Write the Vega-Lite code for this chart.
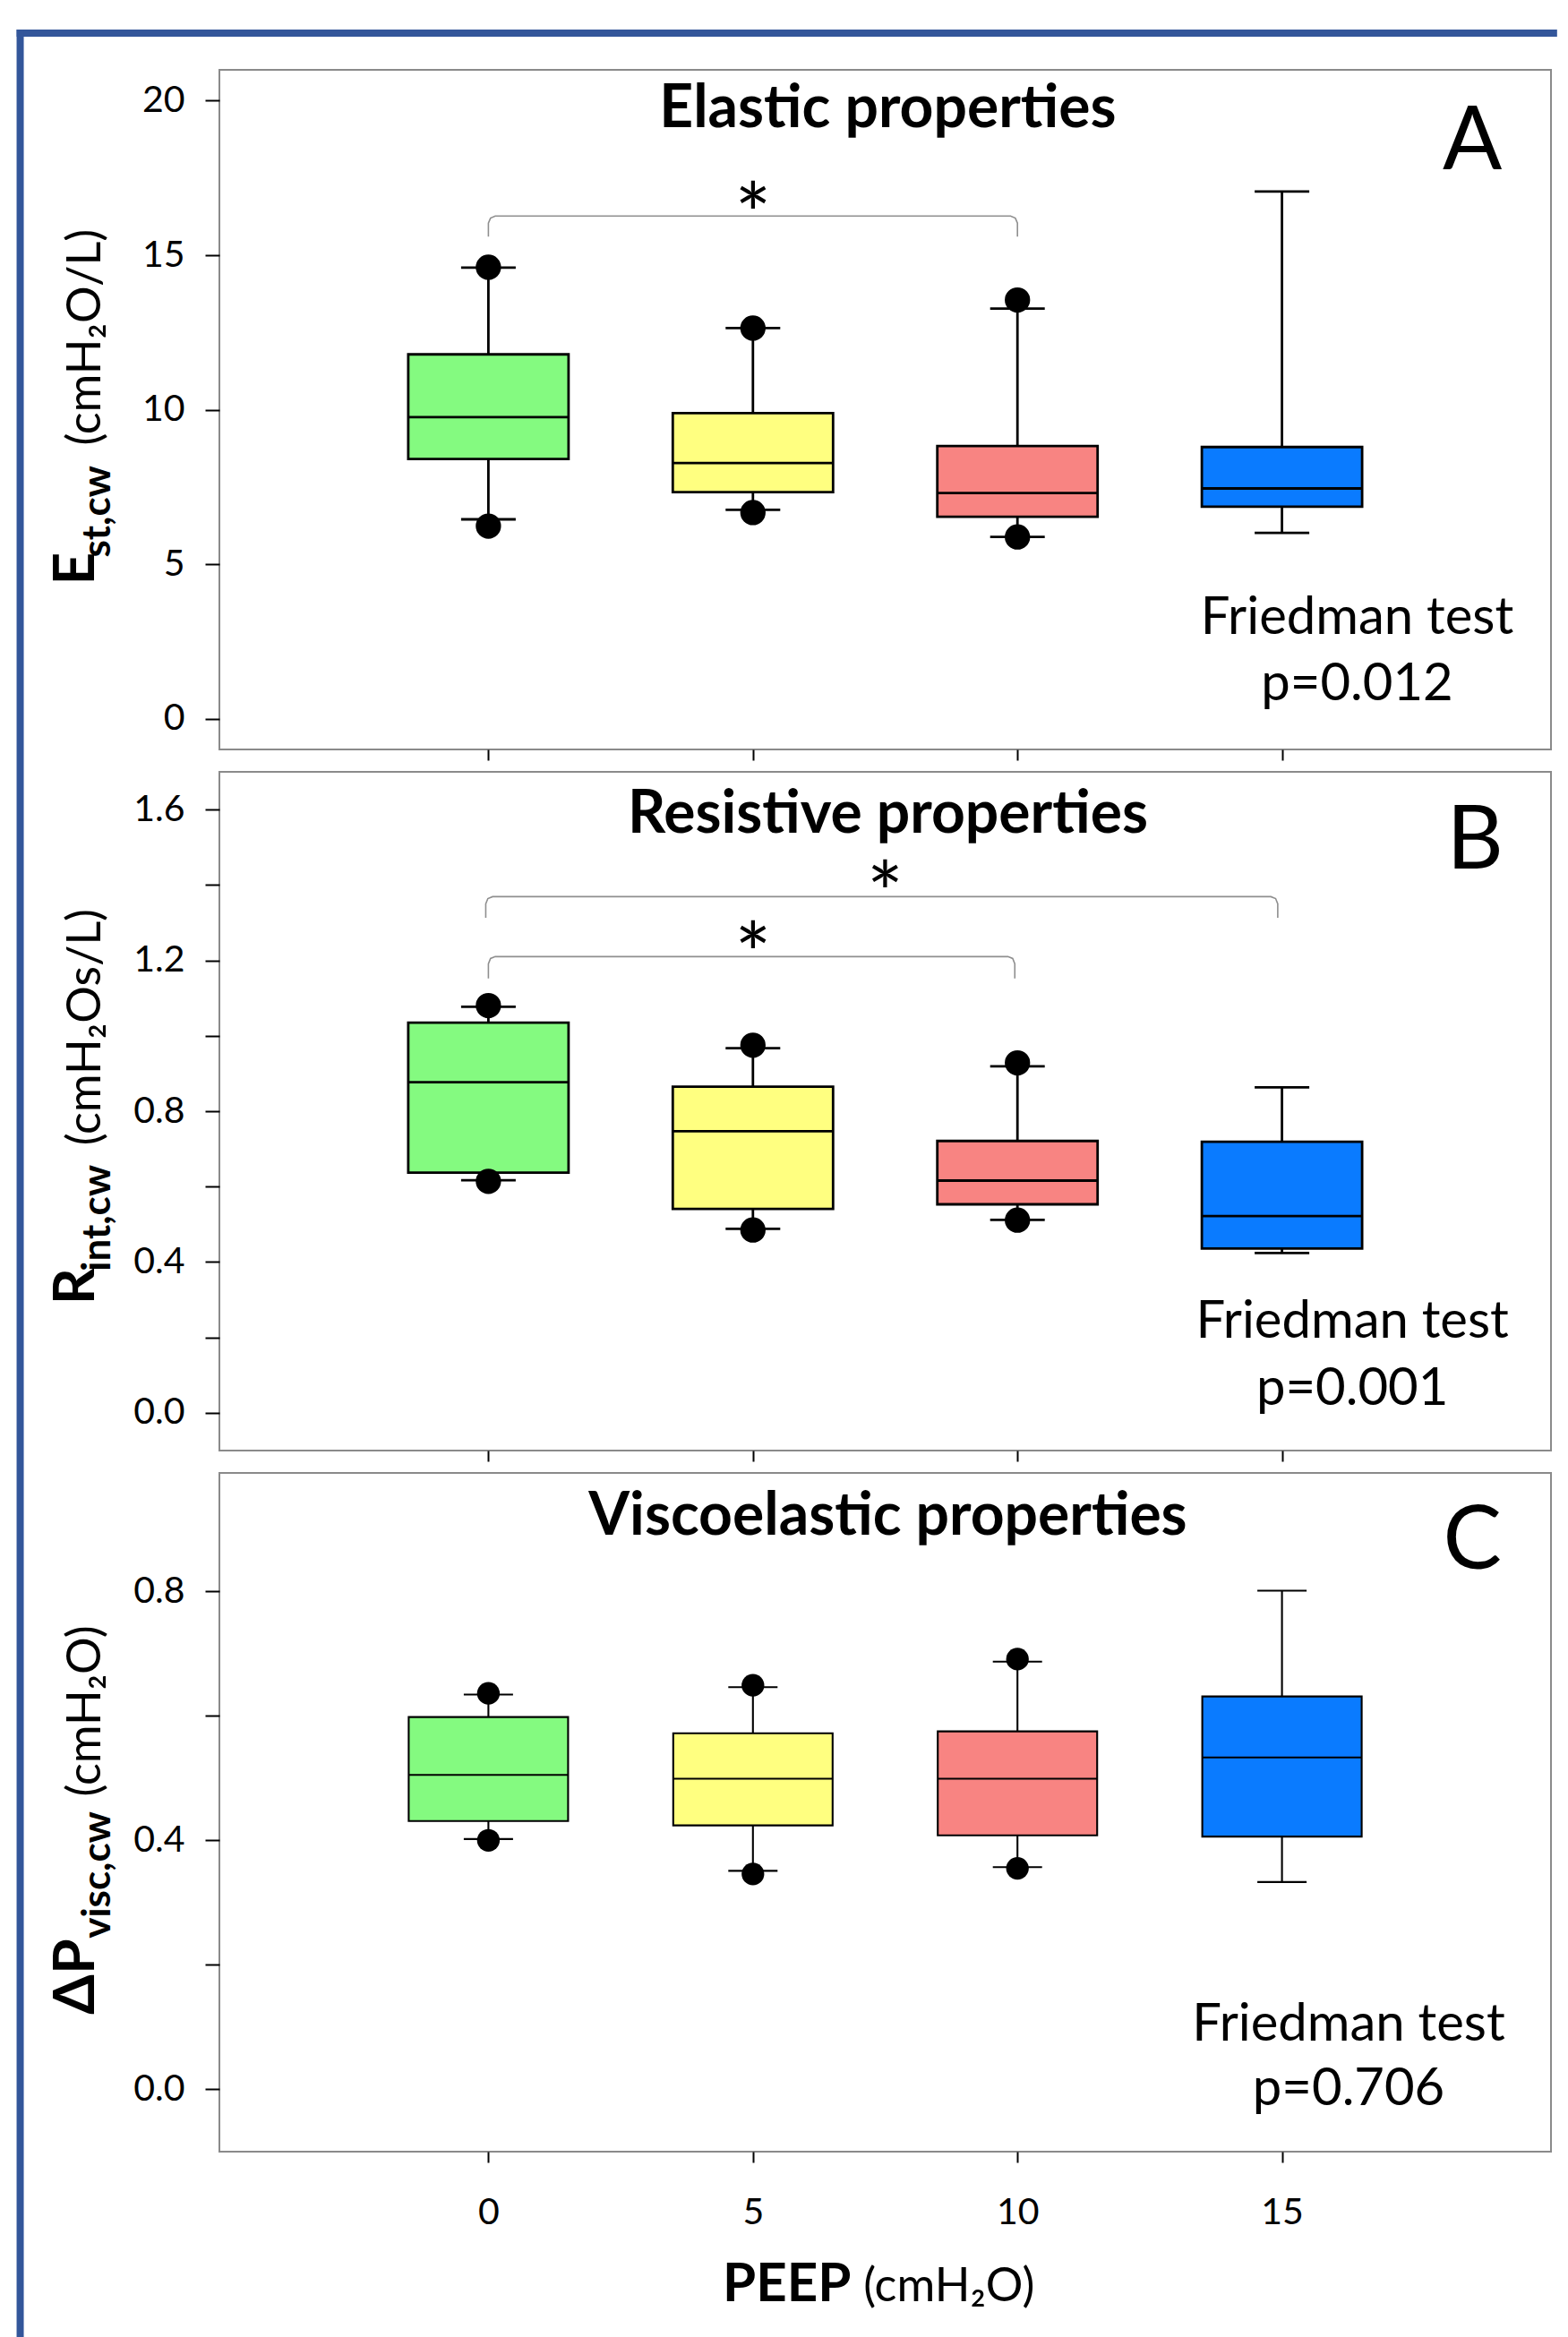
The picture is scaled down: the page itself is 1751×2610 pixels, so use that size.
{
  "$schema": "https://vega.github.io/schema/vega-lite/v6.json",
  "background": "white",
  "autosize": {"type": "pad"},
  "padding": {"left": 13, "top": 28, "right": 0, "bottom": 0},
  "spacing": 25,
  "bounds": "flush",
  "config": {
    "font": "Lato",
    "view": {"stroke": "#8a8a8a", "strokeWidth": 2},
    "text": {"font": "Lato", "color": "black"},
    "axis": {"labelFont": "Lato", "labelColor": "black", "labelFontSize": 41, "tickColor": "black", "tickWidth": 2, "domain": false, "grid": false}
  },
  "datasets": {
    "elastic": [
      {"peep": 0, "lo": 6.45, "q1": 8.40, "med": 9.76, "q3": 11.79, "hi": 14.60, "dlo": 6.23, "dhi": 14.61},
      {"peep": 5, "lo": 6.76, "q1": 7.33, "med": 8.27, "q3": 9.89, "hi": 12.64, "dlo": 6.67, "dhi": 12.64},
      {"peep": 10, "lo": 5.88, "q1": 6.53, "med": 7.30, "q3": 8.82, "hi": 13.27, "dlo": 5.88, "dhi": 13.55},
      {"peep": 15, "lo": 6.01, "q1": 6.86, "med": 7.45, "q3": 8.79, "hi": 17.06, "dlo": null, "dhi": null}
    ],
    "resistive": [
      {"peep": 0, "lo": 0.617, "q1": 0.637, "med": 0.877, "q3": 1.035, "hi": 1.077, "dlo": 0.614, "dhi": 1.080},
      {"peep": 5, "lo": 0.488, "q1": 0.541, "med": 0.747, "q3": 0.865, "hi": 0.967, "dlo": 0.485, "dhi": 0.975},
      {"peep": 10, "lo": 0.512, "q1": 0.553, "med": 0.616, "q3": 0.721, "hi": 0.919, "dlo": 0.511, "dhi": 0.928},
      {"peep": 15, "lo": 0.424, "q1": 0.436, "med": 0.522, "q3": 0.719, "hi": 0.863, "dlo": null, "dhi": null}
    ],
    "visco": [
      {"peep": 0, "lo": 0.402, "q1": 0.431, "med": 0.505, "q3": 0.598, "hi": 0.634, "dlo": 0.400, "dhi": 0.636},
      {"peep": 5, "lo": 0.351, "q1": 0.424, "med": 0.499, "q3": 0.572, "hi": 0.646, "dlo": 0.346, "dhi": 0.649},
      {"peep": 10, "lo": 0.357, "q1": 0.408, "med": 0.499, "q3": 0.575, "hi": 0.687, "dlo": 0.355, "dhi": 0.691},
      {"peep": 15, "lo": 0.333, "q1": 0.406, "med": 0.533, "q3": 0.631, "hi": 0.801, "dlo": null, "dhi": null}
    ],
    "bracketsA": [
      {"b": "a1", "i": 1, "x": 0, "y": 15.6}, {"b": "a1", "i": 2, "x": 0, "y": 16.04}, {"b": "a1", "i": 3, "x": 0.04, "y": 16.2}, {"b": "a1", "i": 4, "x": 0.13, "y": 16.27},
      {"b": "a1", "i": 5, "x": 9.87, "y": 16.27}, {"b": "a1", "i": 6, "x": 9.96, "y": 16.2}, {"b": "a1", "i": 7, "x": 10, "y": 16.04}, {"b": "a1", "i": 8, "x": 10, "y": 15.6}
    ],
    "bracketsB": [
      {"b": "b1", "i": 1, "x": 0, "y": 1.152}, {"b": "b1", "i": 2, "x": 0, "y": 1.191}, {"b": "b1", "i": 3, "x": 0.04, "y": 1.205}, {"b": "b1", "i": 4, "x": 0.13, "y": 1.210},
      {"b": "b1", "i": 5, "x": 9.82, "y": 1.210}, {"b": "b1", "i": 6, "x": 9.91, "y": 1.205}, {"b": "b1", "i": 7, "x": 9.95, "y": 1.191}, {"b": "b1", "i": 8, "x": 9.95, "y": 1.152},
      {"b": "b2", "i": 1, "x": -0.05, "y": 1.313}, {"b": "b2", "i": 2, "x": -0.05, "y": 1.350}, {"b": "b2", "i": 3, "x": -0.01, "y": 1.364}, {"b": "b2", "i": 4, "x": 0.08, "y": 1.369},
      {"b": "b2", "i": 5, "x": 14.79, "y": 1.369}, {"b": "b2", "i": 6, "x": 14.88, "y": 1.364}, {"b": "b2", "i": 7, "x": 14.92, "y": 1.350}, {"b": "b2", "i": 8, "x": 14.92, "y": 1.313}
    ],
    "frame": [
      {"side": "top", "x": -8.917, "x2": 20.2, "y": 22.188, "y2": 22.188},
      {"side": "left", "x": -8.85, "x2": -8.85, "y": 22.304, "y2": -52.42}
    ],
    "notesA": [
      {"role": "star", "label": "*", "x": 5, "y": 15.30},
      {"role": "title", "label": "Elastic properties", "x": 7.55, "y": 19.14},
      {"role": "letter", "label": "A", "x": 18.6, "y": 17.78},
      {"role": "fried", "label": "Friedman test", "x": 16.42, "y": 2.74},
      {"role": "fried", "label": "p=0.012", "x": 16.42, "y": 0.58},
      {"role": "big", "label": "E", "x": -7.454, "y": 4.85},
      {"role": "sub", "label": "st,cw", "x": -7.151, "y": 6.70},
      {"role": "unit", "label": "(cmH₂O/L)", "x": -7.336, "y": 12.34}
    ],
    "notesB": [
      {"role": "star", "label": "*", "x": 5, "y": 1.1335},
      {"role": "star", "label": "*", "x": 7.5, "y": 1.2945},
      {"role": "title", "label": "Resistive properties", "x": 7.55, "y": 1.5395},
      {"role": "letter", "label": "B", "x": 18.65, "y": 1.443},
      {"role": "fried", "label": "Friedman test", "x": 16.33, "y": 0.200},
      {"role": "fried", "label": "p=0.001", "x": 16.33, "y": 0.0206},
      {"role": "big", "label": "R", "x": -7.454, "y": 0.3353},
      {"role": "sub", "label": "int,cw", "x": -7.151, "y": 0.5167},
      {"role": "unit", "label": "(cmH₂Os/L)", "x": -7.336, "y": 1.0228}
    ],
    "notesC": [
      {"role": "title", "label": "Viscoelastic properties", "x": 7.55, "y": 0.8907},
      {"role": "letter", "label": "C", "x": 18.6, "y": 0.836},
      {"role": "fried", "label": "Friedman test", "x": 16.26, "y": 0.0789},
      {"role": "fried", "label": "p=0.706", "x": 16.26, "y": -0.0254},
      {"role": "big", "label": "ΔP", "x": -7.454, "y": 0.181},
      {"role": "sub", "label": "visc,cw", "x": -7.151, "y": 0.3444},
      {"role": "unit", "label": "(cmH₂O)", "x": -7.336, "y": 0.6076},
      {"role": "xbold", "label": "PEEP", "x": 6.855, "y": -0.340},
      {"role": "xunit", "label": "(cmH₂O)", "x": 7.09, "y": -0.340}
    ]
  },
  "vconcat": [
    {
      "width": 1487,
      "height": 759,
      "data": {"name": "elastic"},
      "layer": [
        {"mark": {"type": "rule", "color": "black", "strokeWidth": 2.8},
         "encoding": {"x": {"field": "peep", "type": "quantitative", "scale": {"domain": [-5, 20], "nice": false, "zero": false},
                            "axis": {"values": [0, 5, 10, 15], "format": "d", "labels": false, "title": null, "tickSize": 12}},
                      "y": {"field": "lo", "type": "quantitative", "scale": {"domain": [-1, 21], "nice": false, "zero": false},
                            "axis": {"values": [0, 5, 10, 15, 20], "format": "d", "title": null, "tickSize": 16, "labelPadding": 23}},
                      "y2": {"field": "hi"}}},
        {"mark": {"type": "bar", "width": 179, "stroke": "black", "strokeWidth": 2.8},
         "encoding": {"x": {"field": "peep", "type": "quantitative"}, "y": {"field": "q1", "type": "quantitative"}, "y2": {"field": "q3"},
                      "fill": {"field": "peep", "type": "nominal", "scale": {"domain": [0, 5, 10, 15], "range": ["#84FA80", "#FFFF80", "#F88482", "#0A7BFF"]}, "legend": null}}},
        {"mark": {"type": "tick", "orient": "horizontal", "size": 179, "thickness": 2.8, "color": "black", "opacity": 1},
         "encoding": {"x": {"field": "peep", "type": "quantitative"}, "y": {"field": "med", "type": "quantitative"}}},
        {"mark": {"type": "tick", "orient": "horizontal", "size": 61, "thickness": 2.8, "color": "black", "opacity": 1},
         "encoding": {"x": {"field": "peep", "type": "quantitative"}, "y": {"field": "lo", "type": "quantitative"}}},
        {"mark": {"type": "tick", "orient": "horizontal", "size": 61, "thickness": 2.8, "color": "black", "opacity": 1},
         "encoding": {"x": {"field": "peep", "type": "quantitative"}, "y": {"field": "hi", "type": "quantitative"}}},
        {"mark": {"type": "point", "filled": true, "color": "black", "opacity": 1, "size": 800},
         "encoding": {"x": {"field": "peep", "type": "quantitative"}, "y": {"field": "dlo", "type": "quantitative"}}},
        {"mark": {"type": "point", "filled": true, "color": "black", "opacity": 1, "size": 800},
         "encoding": {"x": {"field": "peep", "type": "quantitative"}, "y": {"field": "dhi", "type": "quantitative"}}},
        {"data": {"name": "bracketsA"},
         "mark": {"type": "line", "color": "#8f8f8f", "strokeWidth": 1.6},
         "encoding": {"x": {"field": "x", "type": "quantitative"}, "y": {"field": "y", "type": "quantitative"}, "detail": {"field": "b"}, "order": {"field": "i"}}},
        {"data": {"name": "notesA"}, "transform": [{"filter": "datum.role == 'star'"}],
         "mark": {"type": "text", "fontSize": 96, "align": "center", "baseline": "alphabetic"},
         "encoding": {"text": {"field": "label"}, "x": {"field": "x", "type": "quantitative"}, "y": {"field": "y", "type": "quantitative"}}},
        {"data": {"name": "notesA"}, "transform": [{"filter": "datum.role == 'title'"}],
         "mark": {"type": "text", "fontSize": 66, "fontWeight": "bold", "align": "center", "baseline": "alphabetic"},
         "encoding": {"text": {"field": "label"}, "x": {"field": "x", "type": "quantitative"}, "y": {"field": "y", "type": "quantitative"}}},
        {"data": {"name": "notesA"}, "transform": [{"filter": "datum.role == 'letter'"}],
         "mark": {"type": "text", "fontSize": 98, "align": "center", "baseline": "alphabetic"},
         "encoding": {"text": {"field": "label"}, "x": {"field": "x", "type": "quantitative"}, "y": {"field": "y", "type": "quantitative"}}},
        {"data": {"name": "notesA"}, "transform": [{"filter": "datum.role == 'fried'"}],
         "mark": {"type": "text", "fontSize": 58, "align": "center", "baseline": "alphabetic"},
         "encoding": {"text": {"field": "label"}, "x": {"field": "x", "type": "quantitative"}, "y": {"field": "y", "type": "quantitative"}}},
        {"data": {"name": "notesA"}, "transform": [{"filter": "datum.role == 'big'"}],
         "mark": {"type": "text", "fontSize": 64, "fontWeight": "bold", "angle": 270, "align": "center", "baseline": "alphabetic"},
         "encoding": {"text": {"field": "label"}, "x": {"field": "x", "type": "quantitative"}, "y": {"field": "y", "type": "quantitative"}}},
        {"data": {"name": "notesA"}, "transform": [{"filter": "datum.role == 'sub'"}],
         "mark": {"type": "text", "fontSize": 44, "fontWeight": "bold", "angle": 270, "align": "center", "baseline": "alphabetic"},
         "encoding": {"text": {"field": "label"}, "x": {"field": "x", "type": "quantitative"}, "y": {"field": "y", "type": "quantitative"}}},
        {"data": {"name": "notesA"}, "transform": [{"filter": "datum.role == 'unit'"}],
         "mark": {"type": "text", "fontSize": 52, "angle": 270, "align": "center", "baseline": "alphabetic"},
         "encoding": {"text": {"field": "label"}, "x": {"field": "x", "type": "quantitative"}, "y": {"field": "y", "type": "quantitative"}}},
        {"data": {"name": "frame"},
         "mark": {"type": "rule", "color": "#33569a", "strokeWidth": 8},
         "encoding": {"x": {"field": "x", "type": "quantitative"}, "x2": {"field": "x2"}, "y": {"field": "y", "type": "quantitative"}, "y2": {"field": "y2"}}}
      ]
    },
    {
      "width": 1487,
      "height": 758,
      "data": {"name": "resistive"},
      "layer": [
        {"mark": {"type": "rule", "color": "black", "strokeWidth": 2.8},
         "encoding": {"x": {"field": "peep", "type": "quantitative", "scale": {"domain": [-5, 20], "nice": false, "zero": false},
                            "axis": {"values": [0, 5, 10, 15], "format": "d", "labels": false, "title": null, "tickSize": 12}},
                      "y": {"field": "lo", "type": "quantitative", "scale": {"domain": [-0.1, 1.7], "nice": false, "zero": false},
                            "axis": {"values": [0, 0.2, 0.4, 0.6, 0.8, 1.0, 1.2, 1.4, 1.6], "labelExpr": "round(datum.value*10) % 4 == 0 ? format(datum.value, '.1f') : ''", "title": null, "tickSize": 16, "labelPadding": 23}},
                      "y2": {"field": "hi"}}},
        {"mark": {"type": "bar", "width": 179, "stroke": "black", "strokeWidth": 2.8},
         "encoding": {"x": {"field": "peep", "type": "quantitative"}, "y": {"field": "q1", "type": "quantitative"}, "y2": {"field": "q3"},
                      "fill": {"field": "peep", "type": "nominal", "scale": {"domain": [0, 5, 10, 15], "range": ["#84FA80", "#FFFF80", "#F88482", "#0A7BFF"]}, "legend": null}}},
        {"mark": {"type": "tick", "orient": "horizontal", "size": 179, "thickness": 2.8, "color": "black", "opacity": 1},
         "encoding": {"x": {"field": "peep", "type": "quantitative"}, "y": {"field": "med", "type": "quantitative"}}},
        {"mark": {"type": "tick", "orient": "horizontal", "size": 61, "thickness": 2.8, "color": "black", "opacity": 1},
         "encoding": {"x": {"field": "peep", "type": "quantitative"}, "y": {"field": "lo", "type": "quantitative"}}},
        {"mark": {"type": "tick", "orient": "horizontal", "size": 61, "thickness": 2.8, "color": "black", "opacity": 1},
         "encoding": {"x": {"field": "peep", "type": "quantitative"}, "y": {"field": "hi", "type": "quantitative"}}},
        {"mark": {"type": "point", "filled": true, "color": "black", "opacity": 1, "size": 800},
         "encoding": {"x": {"field": "peep", "type": "quantitative"}, "y": {"field": "dlo", "type": "quantitative"}}},
        {"mark": {"type": "point", "filled": true, "color": "black", "opacity": 1, "size": 800},
         "encoding": {"x": {"field": "peep", "type": "quantitative"}, "y": {"field": "dhi", "type": "quantitative"}}},
        {"data": {"name": "bracketsB"},
         "mark": {"type": "line", "color": "#8f8f8f", "strokeWidth": 1.6},
         "encoding": {"x": {"field": "x", "type": "quantitative"}, "y": {"field": "y", "type": "quantitative"}, "detail": {"field": "b"}, "order": {"field": "i"}}},
        {"data": {"name": "notesB"}, "transform": [{"filter": "datum.role == 'star'"}],
         "mark": {"type": "text", "fontSize": 96, "align": "center", "baseline": "alphabetic"},
         "encoding": {"text": {"field": "label"}, "x": {"field": "x", "type": "quantitative"}, "y": {"field": "y", "type": "quantitative"}}},
        {"data": {"name": "notesB"}, "transform": [{"filter": "datum.role == 'title'"}],
         "mark": {"type": "text", "fontSize": 66, "fontWeight": "bold", "align": "center", "baseline": "alphabetic"},
         "encoding": {"text": {"field": "label"}, "x": {"field": "x", "type": "quantitative"}, "y": {"field": "y", "type": "quantitative"}}},
        {"data": {"name": "notesB"}, "transform": [{"filter": "datum.role == 'letter'"}],
         "mark": {"type": "text", "fontSize": 98, "align": "center", "baseline": "alphabetic"},
         "encoding": {"text": {"field": "label"}, "x": {"field": "x", "type": "quantitative"}, "y": {"field": "y", "type": "quantitative"}}},
        {"data": {"name": "notesB"}, "transform": [{"filter": "datum.role == 'fried'"}],
         "mark": {"type": "text", "fontSize": 58, "align": "center", "baseline": "alphabetic"},
         "encoding": {"text": {"field": "label"}, "x": {"field": "x", "type": "quantitative"}, "y": {"field": "y", "type": "quantitative"}}},
        {"data": {"name": "notesB"}, "transform": [{"filter": "datum.role == 'big'"}],
         "mark": {"type": "text", "fontSize": 64, "fontWeight": "bold", "angle": 270, "align": "center", "baseline": "alphabetic"},
         "encoding": {"text": {"field": "label"}, "x": {"field": "x", "type": "quantitative"}, "y": {"field": "y", "type": "quantitative"}}},
        {"data": {"name": "notesB"}, "transform": [{"filter": "datum.role == 'sub'"}],
         "mark": {"type": "text", "fontSize": 44, "fontWeight": "bold", "angle": 270, "align": "center", "baseline": "alphabetic"},
         "encoding": {"text": {"field": "label"}, "x": {"field": "x", "type": "quantitative"}, "y": {"field": "y", "type": "quantitative"}}},
        {"data": {"name": "notesB"}, "transform": [{"filter": "datum.role == 'unit'"}],
         "mark": {"type": "text", "fontSize": 52, "angle": 270, "align": "center", "baseline": "alphabetic"},
         "encoding": {"text": {"field": "label"}, "x": {"field": "x", "type": "quantitative"}, "y": {"field": "y", "type": "quantitative"}}}
      ]
    },
    {
      "width": 1487,
      "height": 758,
      "data": {"name": "visco"},
      "layer": [
        {"mark": {"type": "rule", "color": "black", "strokeWidth": 2.1},
         "encoding": {"x": {"field": "peep", "type": "quantitative", "scale": {"domain": [-5, 20], "nice": false, "zero": false},
                            "axis": {"values": [0, 5, 10, 15], "format": "d", "labels": true, "title": null, "tickSize": 12, "labelPadding": 36}},
                      "y": {"field": "lo", "type": "quantitative", "scale": {"domain": [-0.1, 0.99], "nice": false, "zero": false},
                            "axis": {"values": [0, 0.2, 0.4, 0.6, 0.8], "labelExpr": "round(datum.value*10) % 4 == 0 ? format(datum.value, '.1f') : ''", "title": null, "tickSize": 16, "labelPadding": 23}},
                      "y2": {"field": "hi"}}},
        {"mark": {"type": "bar", "width": 178, "stroke": "black", "strokeWidth": 2.1},
         "encoding": {"x": {"field": "peep", "type": "quantitative"}, "y": {"field": "q1", "type": "quantitative"}, "y2": {"field": "q3"},
                      "fill": {"field": "peep", "type": "nominal", "scale": {"domain": [0, 5, 10, 15], "range": ["#84FA80", "#FFFF80", "#F88482", "#0A7BFF"]}, "legend": null}}},
        {"mark": {"type": "tick", "orient": "horizontal", "size": 178, "thickness": 2.1, "color": "black", "opacity": 1},
         "encoding": {"x": {"field": "peep", "type": "quantitative"}, "y": {"field": "med", "type": "quantitative"}}},
        {"mark": {"type": "tick", "orient": "horizontal", "size": 55, "thickness": 2.1, "color": "black", "opacity": 1},
         "encoding": {"x": {"field": "peep", "type": "quantitative"}, "y": {"field": "lo", "type": "quantitative"}}},
        {"mark": {"type": "tick", "orient": "horizontal", "size": 55, "thickness": 2.1, "color": "black", "opacity": 1},
         "encoding": {"x": {"field": "peep", "type": "quantitative"}, "y": {"field": "hi", "type": "quantitative"}}},
        {"mark": {"type": "point", "filled": true, "color": "black", "opacity": 1, "size": 640},
         "encoding": {"x": {"field": "peep", "type": "quantitative"}, "y": {"field": "dlo", "type": "quantitative"}}},
        {"mark": {"type": "point", "filled": true, "color": "black", "opacity": 1, "size": 640},
         "encoding": {"x": {"field": "peep", "type": "quantitative"}, "y": {"field": "dhi", "type": "quantitative"}}},
        {"data": {"name": "notesC"}, "transform": [{"filter": "datum.role == 'title'"}],
         "mark": {"type": "text", "fontSize": 66, "fontWeight": "bold", "align": "center", "baseline": "alphabetic"},
         "encoding": {"text": {"field": "label"}, "x": {"field": "x", "type": "quantitative"}, "y": {"field": "y", "type": "quantitative"}}},
        {"data": {"name": "notesC"}, "transform": [{"filter": "datum.role == 'letter'"}],
         "mark": {"type": "text", "fontSize": 98, "align": "center", "baseline": "alphabetic"},
         "encoding": {"text": {"field": "label"}, "x": {"field": "x", "type": "quantitative"}, "y": {"field": "y", "type": "quantitative"}}},
        {"data": {"name": "notesC"}, "transform": [{"filter": "datum.role == 'fried'"}],
         "mark": {"type": "text", "fontSize": 58, "align": "center", "baseline": "alphabetic"},
         "encoding": {"text": {"field": "label"}, "x": {"field": "x", "type": "quantitative"}, "y": {"field": "y", "type": "quantitative"}}},
        {"data": {"name": "notesC"}, "transform": [{"filter": "datum.role == 'big'"}],
         "mark": {"type": "text", "fontSize": 64, "fontWeight": "bold", "angle": 270, "align": "center", "baseline": "alphabetic"},
         "encoding": {"text": {"field": "label"}, "x": {"field": "x", "type": "quantitative"}, "y": {"field": "y", "type": "quantitative"}}},
        {"data": {"name": "notesC"}, "transform": [{"filter": "datum.role == 'sub'"}],
         "mark": {"type": "text", "fontSize": 44, "fontWeight": "bold", "angle": 270, "align": "center", "baseline": "alphabetic"},
         "encoding": {"text": {"field": "label"}, "x": {"field": "x", "type": "quantitative"}, "y": {"field": "y", "type": "quantitative"}}},
        {"data": {"name": "notesC"}, "transform": [{"filter": "datum.role == 'unit'"}],
         "mark": {"type": "text", "fontSize": 52, "angle": 270, "align": "center", "baseline": "alphabetic"},
         "encoding": {"text": {"field": "label"}, "x": {"field": "x", "type": "quantitative"}, "y": {"field": "y", "type": "quantitative"}}},
        {"data": {"name": "notesC"}, "transform": [{"filter": "datum.role == 'xbold'"}],
         "mark": {"type": "text", "fontSize": 60, "fontWeight": "bold", "align": "right", "baseline": "alphabetic"},
         "encoding": {"text": {"field": "label"}, "x": {"field": "x", "type": "quantitative"}, "y": {"field": "y", "type": "quantitative"}}},
        {"data": {"name": "notesC"}, "transform": [{"filter": "datum.role == 'xunit'"}],
         "mark": {"type": "text", "fontSize": 52, "align": "left", "baseline": "alphabetic"},
         "encoding": {"text": {"field": "label"}, "x": {"field": "x", "type": "quantitative"}, "y": {"field": "y", "type": "quantitative"}}}
      ]
    }
  ]
}
